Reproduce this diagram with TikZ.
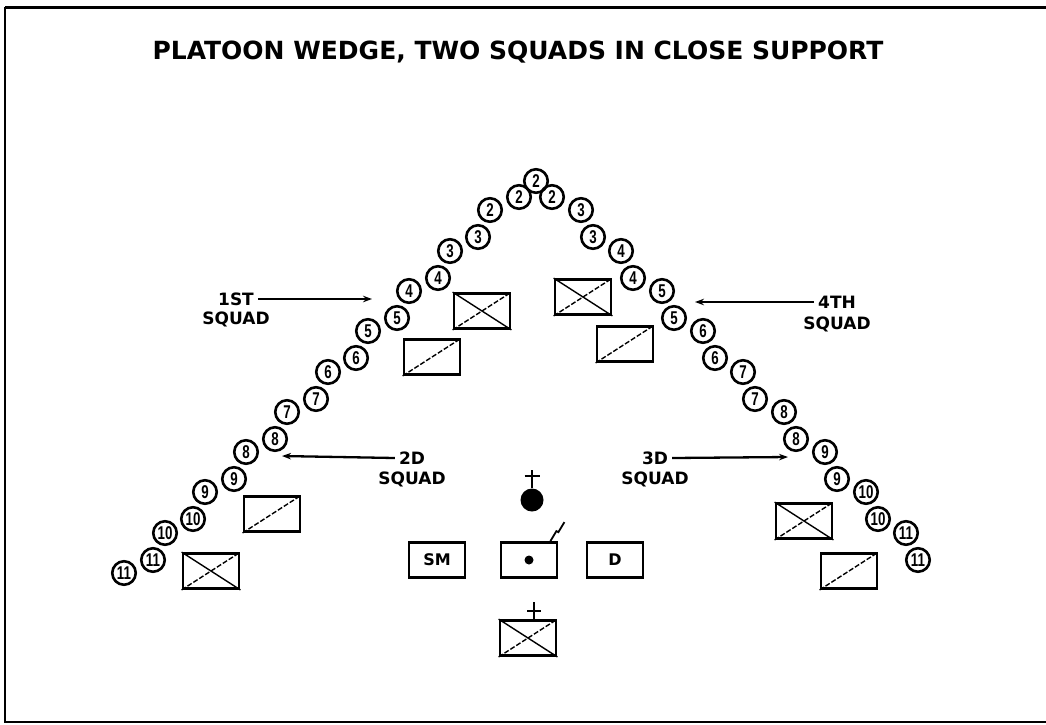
\documentclass[tikz,border=0pt]{standalone}
\usepackage{fontspec}
\newfontfamily\lblfont{DejaVu Sans}
\newfontfamily\numfont{Liberation Sans}[FakeStretch=0.72]
\usetikzlibrary{arrows.meta,positioning}

\begin{document}
\begin{tikzpicture}[x=1pt,y=-1pt,
    man/.style={circle, draw, line width=2.6pt, minimum size=23.5pt, inner sep=0pt,
                font=\numfont\bfseries\fontsize{18.5}{18.5}\selectfont},
    veh/.style={draw, line width=2.8pt, minimum width=56pt, minimum height=35pt, inner sep=0pt},
    slash/.style={line width=1.4pt, dash pattern=on 5pt off 2pt},
    cross/.style={line width=1.4pt},
    lbl/.style={font=\lblfont\bfseries\fontsize{17}{17}\selectfont, inner sep=0pt,
                text height=12.5pt, text depth=0pt},
    ptr/.style={line width=2.3pt, -{Stealth[length=9pt,width=6.5pt]}}]
    \useasboundingbox (0,0) rectangle (1046,724);

    % Frame
    \draw[line width=3pt] (1046,7) -- (5,7);
    \draw[line width=2pt] (5,7) -- (5,722) -- (1046,722);

    % Title
    \node[font=\lblfont\bfseries\fontsize{25}{25}\selectfont] (title) at (518,52)
        {PLATOON WEDGE, TWO SQUADS IN CLOSE SUPPORT};

    % Point man
    \node[man] (apex) at (536,181) {2};

    % Left side of the wedge
    \foreach \i/\x/\y/\n in {
        1/519/197/2, 2/490/210/2, 3/478/237/3, 4/450/251/3,
        5/438/278/4, 6/409/291/4, 7/397/318/5, 8/368/331/5,
        9/356/358/6, 10/328/372/6, 11/316/399/7, 12/287/412/7,
        13/275/439/8, 14/246/452/8, 15/234/479/9, 16/205/492/9,
        17/193/519/10, 18/165/533/10, 19/153/560/11, 20/124/573/11} {
        \node[man] (l\i) at (\x,\y) {\n};
    }

    % Right side of the wedge
    \foreach \i/\x/\y/\n in {
        1/552/197/2, 2/581/210/3, 3/593/237/3, 4/621/251/4,
        5/633/278/4, 6/662/291/5, 7/674/318/5, 8/703/331/6,
        9/715/358/6, 10/743/372/7, 11/755/399/7, 12/784/412/8,
        13/796/439/8, 14/825/452/9, 15/837/479/9, 16/866/492/10,
        17/878/519/10, 18/906/533/11, 19/918/560/11} {
        \node[man] (r\i) at (\x,\y) {\n};
    }

    % Vehicles
    \foreach \nm/\x/\y in {xa/482/311, xb/583/297, xc/211/571, xd/804/521, xe/528/638} {
        \node[veh] (\nm) at (\x,\y) {};
        \draw[cross] (\nm.north west) -- (\nm.south east);
        \draw[slash] (\nm.south west) -- (\nm.north east);
    }
    \foreach \nm/\x/\y in {sa/432/357, sb/625/344, sc/272/514, sd/849/571} {
        \node[veh] (\nm) at (\x,\y) {};
        \draw[slash] (\nm.south west) -- (\nm.north east);
    }
    \draw[line width=2pt] (xe.north) ++(6,0) -- ++(0,-17);
    \draw[line width=2pt] (xe.north) ++(-1,-8) -- ++(14,0);

    % Platoon HQ
    \node[circle, fill, minimum size=23pt, inner sep=0pt] (pl) at (532,500) {};
    \draw[line width=2pt] (pl.north) -- ++(0,-18);
    \draw[line width=2pt] (pl.north) ++(-7.5,-12) -- ++(15,0);
    \node[veh, font=\lblfont\bfseries\fontsize{16}{16}\selectfont] (sm) at (437,560) {SM};
    \node[veh] (hq) at (529,560) {};
    \fill (hq.center) circle (4.5);
    \draw[line width=1.8pt] (hq.north east) ++(-8,0) -- ++(6,-10) -- ++(2,1) -- ++(6,-10);
    \node[veh, font=\lblfont\bfseries\fontsize{16}{16}\selectfont] (dd) at (615,560) {D};

    % Squad labels
    \node[lbl] (q1) at (236,299) {1ST};
    \node[lbl, below=6.5pt of q1] (q1b) {SQUAD};
    \coordinate (t1) at (372,299);
    \draw[ptr] ([xshift=4pt]q1.east) -- (t1);

    \node[lbl] (q4) at (837,302) {4TH};
    \node[lbl, below=8.5pt of q4] (q4b) {SQUAD};
    \coordinate (t4) at (695,302);
    \draw[ptr] ([xshift=-4pt]q4.west) -- (t4);

    \node[lbl] (q2) at (412,458) {2D};
    \node[lbl, below=7.5pt of q2] (q2b) {SQUAD};
    \coordinate (t2) at (282,456);
    \draw[ptr] ([xshift=-4pt]q2.west) -- (t2);

    \node[lbl] (q3) at (655,458) {3D};
    \node[lbl, below=7.5pt of q3] (q3b) {SQUAD};
    \coordinate (t3) at (788,457);
    \draw[ptr] ([xshift=4pt]q3.east) -- (t3);
\end{tikzpicture}
\end{document}
